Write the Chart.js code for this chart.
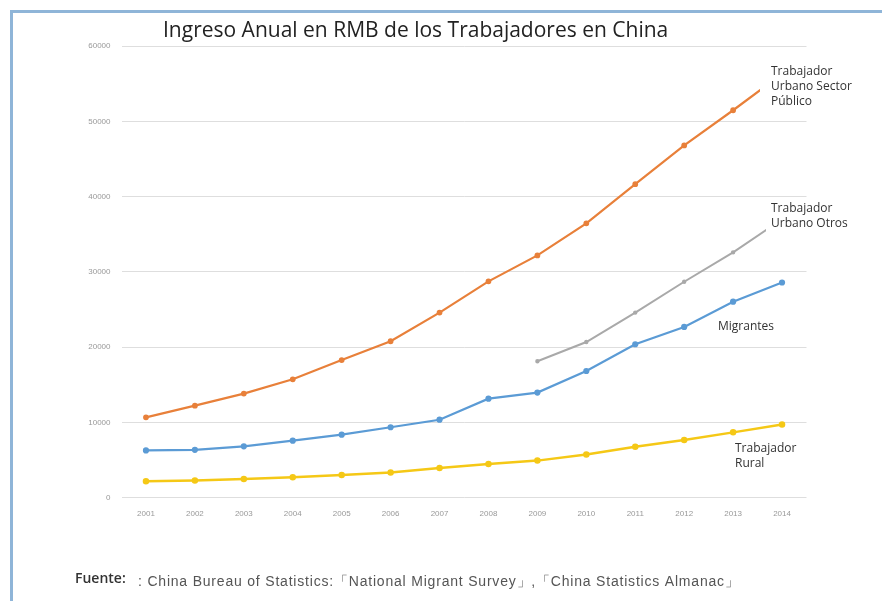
<!DOCTYPE html>
<html>
<head>
<meta charset="utf-8">
<script src="https://cdn.jsdelivr.net/npm/chart.js@4.4.1/dist/chart.umd.min.js"></script>
<style>
  body { margin: 0; background: #fff; }
  #wrap { position: relative; width: 882px; height: 601px; overflow: hidden; }
  #frame { position: absolute; left: 10px; top: 10px; width: 900px; height: 620px;
           border-top: 3px solid #8fb5d8; border-left: 3px solid #8fb5d8; }
  canvas { position: absolute; left: 0; top: 0; }
</style>
</head>
<body>
<div id="wrap">
  <div id="frame"></div>
  <canvas id="ingresoChart" width="882" height="601"></canvas>
</div>
<script>
// datos
const years = ['2001', '2002', '2003', '2004', '2005', '2006', '2007', '2008', '2009', '2010', '2011', '2012', '2013', '2014'];
const sectorPublico = [10700, 12250, 13850, 15750, 18300, 20800, 24600, 28750, 32200, 36450, 41650, 46800, 51470, 56300];
const urbanoOtros = [null, null, null, null, null, null, null, null, 18150, 20700, 24600, 28700, 32600, 37000];
const migrantes = [6300, 6380, 6850, 7600, 8400, 9380, 10380, 13180, 13980, 16850, 20400, 22700, 26050, 28600];
const rural = [2200, 2320, 2520, 2740, 3040, 3380, 3980, 4500, 4950, 5750, 6800, 7700, 8700, 9750];
const yTicks = [0, 10000, 20000, 30000, 40000, 50000, 60000];

// etiquetas y textos fijos
const textos = {
    id: 'textos',
    afterDatasetsDraw(chart) {
        const c = chart.ctx;
        c.save();
        // cajas blancas de las etiquetas (tapan el final de las líneas)
        c.fillStyle = '#fff';
        c.fillRect(760, 58, 100, 54);
        c.fillRect(766, 198, 100, 35);

        c.fillStyle = '#222';
        c.textBaseline = 'middle';
        c.textAlign = 'left';
        c.font = '21px "Open Sans"';
        c.fillText('Ingreso Anual en RMB de los Trabajadores en China', 163, 31);

        c.font = '12px "Open Sans"';
        c.fillStyle = '#333';
        c.fillText('Trabajador', 771, 72);
        c.fillText('Urbano Sector', 771, 87);
        c.fillText('Público', 771, 102);
        c.fillText('Trabajador', 771, 209);
        c.fillText('Urbano Otros', 771, 224);
        c.fillText('Migrantes', 718, 327);
        c.fillText('Trabajador', 735, 449);
        c.fillText('Rural', 735, 464);

        c.font = '600 14px "Open Sans"';
        c.fillStyle = '#333';
        c.fillText('Fuente:', 75, 579);
        c.font = '14px "Liberation Sans"';
        c.letterSpacing = '0.8px';
        c.fillStyle = '#555';
        c.fillText(': China Bureau of Statistics:「National Migrant Survey」,「China Statistics Almanac」', 138, 582);
        c.restore();
    }
};

const ctx = document.getElementById('ingresoChart').getContext('2d');

new Chart(ctx, {
    type: 'line',
    data: {
        labels: years,
        datasets: [
            {
                label: 'Trabajador Urbano Sector Público',
                data: sectorPublico,
                borderColor: '#e8803a',
                backgroundColor: '#e8803a',
                borderWidth: 2.2,
                pointRadius: 1.8,
                tension: 0
            },
            {
                label: 'Trabajador Urbano Otros',
                data: urbanoOtros,
                borderColor: '#a9a9a9',
                backgroundColor: '#a9a9a9',
                borderWidth: 2,
                pointRadius: 1.2,
                tension: 0
            },
            {
                label: 'Migrantes',
                data: migrantes,
                borderColor: '#5b9bd5',
                backgroundColor: '#5b9bd5',
                borderWidth: 2.2,
                pointRadius: 2,
                tension: 0
            },
            {
                label: 'Trabajador Rural',
                data: rural,
                borderColor: '#f5c816',
                backgroundColor: '#f5c816',
                borderWidth: 2.5,
                pointRadius: 2,
                tension: 0
            }
        ]
    },
    options: {
        responsive: false,
        animation: false,
        layout: { padding: { top: 46, right: 75.5, bottom: 78.5, left: 0 } },
        plugins: {
            legend: { display: false },
            tooltip: { enabled: false }
        },
        scales: {
            x: {
                offset: true,
                grid: { display: false },
                border: { display: false },
                ticks: { color: '#999', font: { size: 8, family: 'Liberation Sans' }, padding: 3.5, maxRotation: 0, autoSkip: false }
            },
            y: {
                min: 0,
                max: 60000,
                afterBuildTicks(scale) { scale.ticks = yTicks.map(v => ({ value: v })); },
                grid: { color: '#dedede', drawTicks: false },
                border: { display: false },
                ticks: {
                    color: '#999',
                    font: { size: 8, family: 'Liberation Sans' },
                    padding: 11,
                    callback: v => String(v)
                },
                afterFit(scale) { scale.width = 121.5; }
            }
        }
    },
    plugins: [textos]
});
</script>
</body>
</html>
